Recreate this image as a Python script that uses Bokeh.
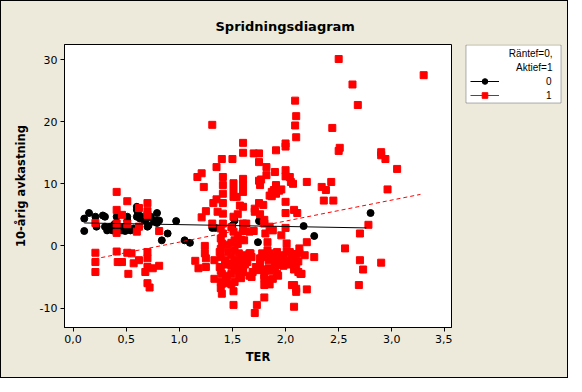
from bokeh.plotting import figure
from bokeh.layouts import row
from bokeh.models import (Range1d, FixedTicker, CustomJSTickFormatter, Legend, LegendItem,
                          ColumnDataSource, BoxAnnotation, Label)
from bokeh.embed import file_html
from bokeh.resources import INLINE

# ---- data ----
ter_0 = [0.105, 0.105, 0.15, 0.21, 0.22, 0.28, 0.30, 0.30, 0.32, 0.35, 0.37, 0.39, 0.41, 0.43,
         0.46, 0.49, 0.51, 0.51, 0.49, 0.54, 0.57, 0.60, 0.61, 0.60, 0.63, 0.65, 0.67, 0.69,
         0.71, 0.73, 0.76, 0.79, 0.77, 0.79, 0.81, 0.70, 0.60, 0.835, 0.89, 0.97, 1.05, 1.10,
         1.31, 1.34, 1.50, 1.52, 1.74, 1.75, 2.17, 2.27, 2.80]
ret_0 = [4.4, 2.4, 5.3, 4.7, 3.1, 4.9, 4.7, 3.1, 2.5, 3.1, 2.5, 3.5, 4.7, 3.1,
         2.5, 3.1, 4.7, 4.1, 2.4, 2.5, 2.8, 6.3, 5.3, 4.7, 4.4, 4.7, 4.1, 4.4,
         3.3, 4.7, 3.9, 5.3, 4.1, 3.7, 4.1, 3.1, 5.8, 0.9, 2.0, 4.0, 0.9, 0.5,
         2.9, 2.9, 3.3, 4.1, 0.6, 4.0, 3.2, 1.6, 5.3]

ter_1 = [0.21, 0.21, 0.21, 0.21, 0.41, 0.41, 0.41, 0.41, 0.41, 0.42, 0.46, 0.46, 0.51, 0.51,
         0.51, 0.52, 0.55, 0.57, 0.60, 0.62, 0.62, 0.62, 0.68, 0.70, 0.70, 0.70, 0.70, 0.70,
         0.70, 0.70, 0.72, 0.75, 0.81, 0.81,
         1.15, 1.17, 1.18, 1.21, 1.21, 1.23, 1.24, 1.24, 1.25, 1.25, 1.25, 1.31, 1.31, 1.32,
         1.33, 1.33, 1.35, 1.35, 1.36,
         1.40, 1.41, 1.41, 1.41, 1.41, 1.41, 1.41, 1.41, 1.40, 1.38, 1.38, 1.40, 1.40, 1.40,
         1.43, 1.44, 1.46, 1.47, 1.50, 1.51, 1.51, 1.51, 1.51, 1.51, 1.52, 1.52, 1.52, 1.52,
         1.52, 1.51, 1.51, 1.54, 1.55, 1.55, 1.56, 1.56, 1.57, 1.60, 1.60, 1.60, 1.60, 1.60,
         1.60, 1.60, 1.60, 1.61, 1.61, 1.60, 1.60, 1.63, 1.64, 1.66, 1.67, 1.68, 1.68, 1.69,
         1.70, 1.70, 1.71, 1.71, 1.72, 1.73, 1.74, 1.75, 1.75, 1.75, 1.76, 1.76, 1.77, 1.78,
         1.79, 1.80, 1.80, 1.80, 1.80, 1.81, 1.82, 1.82, 1.83, 1.83, 1.84, 1.84, 1.84, 1.85,
         1.87, 1.88, 1.88, 1.88, 1.89, 1.90, 1.91, 1.91, 1.91, 1.92, 1.92, 1.94, 1.95, 1.96,
         1.96, 1.97, 2.00, 2.00, 2.00, 2.00, 2.00, 2.00, 2.00, 2.01, 2.01, 2.01, 2.03, 2.04,
         2.05, 2.06, 2.07, 2.08, 2.08, 2.08, 2.09, 2.09, 2.10, 2.10, 2.10, 2.10, 2.10, 2.10,
         2.11, 2.12, 2.13, 2.13, 2.15, 2.20, 2.20, 2.20, 2.27, 2.34, 2.36, 2.38, 2.43, 2.44,
         2.45, 2.50, 2.50, 2.51, 2.56, 2.63, 2.68, 2.69, 2.70, 2.70, 2.73, 2.78, 2.90, 2.90,
         2.90, 2.94, 2.96, 3.05, 3.30,
         1.39, 1.39, 1.39, 1.39, 1.39, 1.39, 1.39, 1.45, 1.45, 1.45, 1.45, 1.49, 1.49, 1.49,
         1.49, 1.49, 1.49, 1.55, 1.55, 1.55, 1.58, 1.58, 1.58, 1.62, 1.62, 1.66, 1.66,
         1.76, 1.76, 1.80, 1.80, 1.80, 1.85, 1.85, 1.85, 1.90, 1.90, 1.93, 1.93, 1.98, 1.98,
         2.04, 2.04, 2.08, 2.08, 1.75, 1.87, 1.94, 1.85, 1.71, 1.80, 2.12, 2.18, 2.14, 2.06]
ret_1 = [-1.1, -2.6, -4.2, 3.7, 8.7, 5.8, 3.6, 2.1, -0.9, -2.6, -2.6, 5.0, 7.2, 3.5,
         -1.1, -4.5, -1.2, -2.8, 2.3, 6.1, -2.3, 3.1, -4.2, 6.9, 5.6, 5.0, -1.0, -2.0,
         -3.4, -6.0, -6.7, -3.6, 2.4, -3.2,
         -2.4, 11.1, -3.6, 11.7, 4.6, 9.5, 0.0, -1.2, -2.0, -3.4, 5.6, 19.5, 3.6, 6.9,
         -2.3, -5.3, 12.7, 7.5, 5.5,
         14.0, 11.1, 9.8, 8.4, 6.9, 5.2, 3.6, 2.0, 0.4, -1.0, -3.4, -4.5, -6.1, -7.7,
         -2.3, -5.3, -1.0, -2.8, 14.0, 10.1, 9.0, 7.9, 4.7, 2.3, 0.9, -0.7, -2.3, -3.9,
         -5.8, -7.3, -9.5, 7.9, 5.1, 1.7, -1.2, -4.7, 6.5, 16.6, 15.0, 10.8, 9.8, 8.7,
         6.3, 3.6, 2.4, 0.9, -1.5, -3.4, -4.2, 3.6, -2.6, 2.3, -1.2, -5.0, -1.8, -4.2,
         14.9, 2.4, -10.8, 5.5, -3.4, -9.5, -3.9, 14.9, 13.5, 6.9, 5.1, 9.8, 10.7, -1.2,
         6.6, 3.6, -4.7, -6.3, -8.3, 2.0, 12.7, 11.4, 0.6, -0.7, -2.3, -3.6, -5.5, 3.1,
         8.0, -1.8, 2.5, -5.3, 9.0, 11.9, 9.8, 15.4, 8.4, -1.0, -4.5, -3.1, -2.0, 1.7,
         9.1, -2.3, 16.5, 16.0, 12.2, 11.2, 7.1, 5.3, 2.9, 0.4, -0.8, -2.3, -2.8, 11.1,
         10.3, -2.0, 10.0, 5.8, -9.8, -6.3, 19.4, 23.4, -6.9, 20.9, 17.5, -7.4, -3.4, -1.3,
         5.3, -4.2, -0.4, -1.2, -4.5, 10.3, 0.6, -7.0, -1.8, 9.5, 7.3, 9.0, 10.3, 19.0,
         7.3, 30.1, 15.3, 15.8, -0.4, 26.0, 22.7, -6.3, 2.0, -2.3, -3.8, 3.4, 15.1, 14.6,
         -2.7, 14.0, 9.1, 12.4, 27.5,
         -0.5, -1.8, -4.0, -5.8, -6.8, 2.8, 1.2, -3.0, -4.8, 0.2, -6.0, -1.5, -3.2, -4.5,
         -6.2, 0.5, 3.0, -2.8, -3.8, 0.3, -1.8, -5.2, 1.0, -2.2, -3.0, -1.2, -4.8,
         -2.0, -3.0, -1.8, -3.8, -5.2, -1.2, -4.0, -6.2, -2.8, -3.6, -1.8, -4.8, -3.2, -1.5,
         -3.0, -1.0, -3.8, -2.4, 10.5, 8.7, 8.9, 8.1, 6.0, 4.2, -2.5, -1.5, -4.5, -6.3]

# fitted lines (end points)
fit0_x = [0.105, 2.76]
fit0_y = [3.7, 2.9]
fit1_x = [0.20, 3.27]
fit1_y = [-2.1, 8.3]

x_ticks = [0.0, 0.5, 1.0, 1.5, 2.0, 2.5, 3.0, 3.5]
y_ticks = [-10, 0, 10, 20, 30]

title_text = "Spridningsdiagram"
x_label = "TER"
y_label = "10-årig avkastning"
legend_header = ["Räntef=0,", "Aktief=1"]
group_labels = ["0", "1"]

BEIGE = "#EDEADB"
FONT = "DejaVu Sans"
LFONT = "Liberation Sans"
NAN = float("nan")

# ---------------- main plot ----------------
p = figure(width=451, height=376, output_backend="svg", toolbar_location=None,
           x_range=Range1d(-0.081, 3.562), y_range=Range1d(-13.14, 32.44),
           min_border_left=63, min_border_right=1, min_border_top=43, min_border_bottom=50)

p.background_fill_color = "white"
p.border_fill_color = BEIGE
p.outline_line_color = "black"
p.outline_line_width = 1
p.xgrid.visible = False
p.ygrid.visible = False

p.title.text = title_text
p.title.align = "left"
p.title.offset = 151
p.title.standoff = 22
p.title.text_font = FONT
p.title.text_font_size = "13px"
p.title.text_font_style = "bold"
p.title.text_color = "black"

fmt = CustomJSTickFormatter(code="return tick.toFixed(1).replace('.', ',');")
fmt_y = CustomJSTickFormatter(code="return tick.toFixed(0);")
for ax, ticks, f in ((p.xaxis[0], x_ticks, fmt), (p.yaxis[0], y_ticks, fmt_y)):
    ax.ticker = FixedTicker(ticks=ticks)
    ax.formatter = f
    ax.axis_line_color = "black"
    ax.major_tick_line_color = "black"
    ax.major_tick_out = 4
    ax.major_tick_in = 0
    ax.minor_tick_line_color = None
    ax.major_label_text_font = FONT
    ax.major_label_text_font_size = "11px"
    ax.major_label_text_color = "black"
    ax.axis_label_text_font = FONT
    ax.axis_label_text_font_size = "11.5px"
    ax.axis_label_text_font_style = "bold"
    ax.axis_label_text_color = "black"

p.xaxis.axis_label = x_label
p.yaxis.axis_label = y_label
p.xaxis.major_label_standoff = 3
p.xaxis.axis_label_standoff = 4
p.yaxis.major_label_standoff = 3
p.yaxis.axis_label_standoff = 9

src0 = ColumnDataSource(dict(x=ter_0, y=ret_0))
src1 = ColumnDataSource(dict(x=ter_1, y=ret_1))

p.scatter("x", "y", source=src0, marker="circle", size=7, fill_color="black", line_color="black")
p.scatter("x", "y", source=src1, marker="square", size=7, fill_color="#FF0000", line_color="#FF0000")
p.line(fit0_x, fit0_y, line_color="black", line_width=1)
p.line(fit1_x, fit1_y, line_color="#FF0000", line_width=1, line_dash="4 3")

# ---------------- legend panel (frame aligned with the main frame) ----------------
q = figure(width=115, height=376, output_backend="svg", toolbar_location=None,
           x_range=Range1d(0, 115), y_range=Range1d(326, 43),
           x_axis_type=None, y_axis_type=None,
           min_border_left=0, min_border_right=0, min_border_top=43, min_border_bottom=50)
q.background_fill_color = BEIGE
q.border_fill_color = BEIGE
q.outline_line_color = None
q.grid.visible = False

q.add_layout(BoxAnnotation(left=13.5, right=108.5, top=43.5, bottom=101.5,
                           fill_color="white", fill_alpha=1,
                           line_color="black", line_width=1))
for txt, yy in zip(legend_header, [51.8, 65.8]):
    q.add_layout(Label(x=100, y=yy, text=txt, text_align="right", text_baseline="middle",
                       text_font=LFONT, text_font_size="10px", text_color="black"))

# legend-only renderers (no visible data of their own)
lg0 = q.line(x=[NAN], y=[NAN], line_color="black", line_width=1)
mk0 = q.scatter(x=[NAN], y=[NAN], marker="circle", size=7, fill_color="black", line_color="black")
lg1 = q.line(x=[NAN], y=[NAN], line_color="#FF0000", line_width=1)
mk1 = q.scatter(x=[NAN], y=[NAN], marker="square", size=7, fill_color="#FF0000", line_color="#FF0000")

legend = Legend(items=[LegendItem(label=group_labels[0], renderers=[lg0, mk0]),
                       LegendItem(label=group_labels[1], renderers=[lg1, mk1])],
                location=(18, 225))
legend.label_text_font = LFONT
legend.label_text_font_size = "10px"
legend.label_text_color = "black"
legend.glyph_width = 29
legend.glyph_height = 14
legend.label_height = 14
legend.label_width = 6
legend.label_standoff = 47
legend.padding = 0
legend.spacing = 0
legend.margin = 0
legend.border_line_color = None
legend.background_fill_alpha = 0
q.add_layout(legend, "center")

layout = row(p, q)
layout.styles = {"border": "1px solid black", "background-color": BEIGE}

open("out.html", "w").write(file_html(layout, INLINE))
